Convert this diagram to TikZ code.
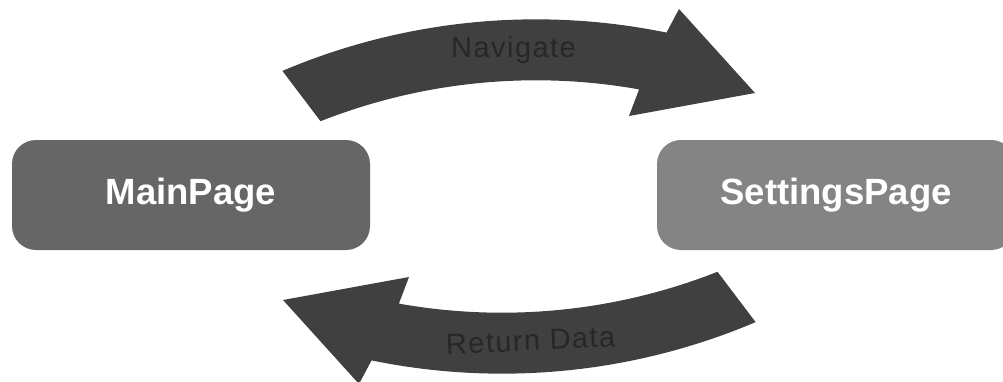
\documentclass[tikz,border=0pt]{standalone}
\usepackage{fontspec}
\setmainfont{Liberation Sans}
\usepackage{tikz}
\definecolor{boxDark}{HTML}{666666}
\definecolor{boxLight}{HTML}{848484}
\definecolor{arrowInk}{HTML}{404040}
\definecolor{labelInk}{HTML}{272727}
\tikzset{
  pagebox/.style={fill=boxDark, rounded corners=24pt, inner sep=0pt,
    minimum width=358pt, minimum height=110pt, text=white,
    font=\fontsize{36.5}{40}\selectfont\bfseries},
  pageboxlight/.style={pagebox, fill=boxLight},
  arrowlabel/.style={anchor=base, inner sep=0pt, text=labelInk,
    font=\fontsize{29}{32}\selectfont\addfontfeature{LetterSpace=5}},
  bentarrow/.pic={
    \fill[arrowInk] (-236.6,125.6)
      arc[start angle=113, end angle=78.4, radius=649]
      -- (160,187.5) -- (236,103.5) -- (110,80.5) -- (120.1,107.1)
      arc[start angle=79.9, end angle=111.5, radius=588] -- cycle;
  }
}

\begin{document}
\begin{tikzpicture}[x=1pt,y=1pt]
\useasboundingbox (0,0) rectangle (1003,381);

% ---------------------------------------------------------------------------
% The two pages.
% ---------------------------------------------------------------------------
\node[pagebox] (mainpage) at (191,186) {MainPage};
\node[pageboxlight] (settingspage) at (836,186) {SettingsPage};

% ---------------------------------------------------------------------------
% Bent block arrows between them (one shape, turned half round).
% ---------------------------------------------------------------------------
\coordinate (hub) at (519,184.5);
\pic at (hub) {bentarrow};
\pic[rotate=180] at (hub) {bentarrow};

\node[arrowlabel] (navigate) at (513.5,323) {Navigate};
\node[arrowlabel, rotate=2.5] (returndata) at (531,30.5) {Return Data};

\end{tikzpicture}
\end{document}
